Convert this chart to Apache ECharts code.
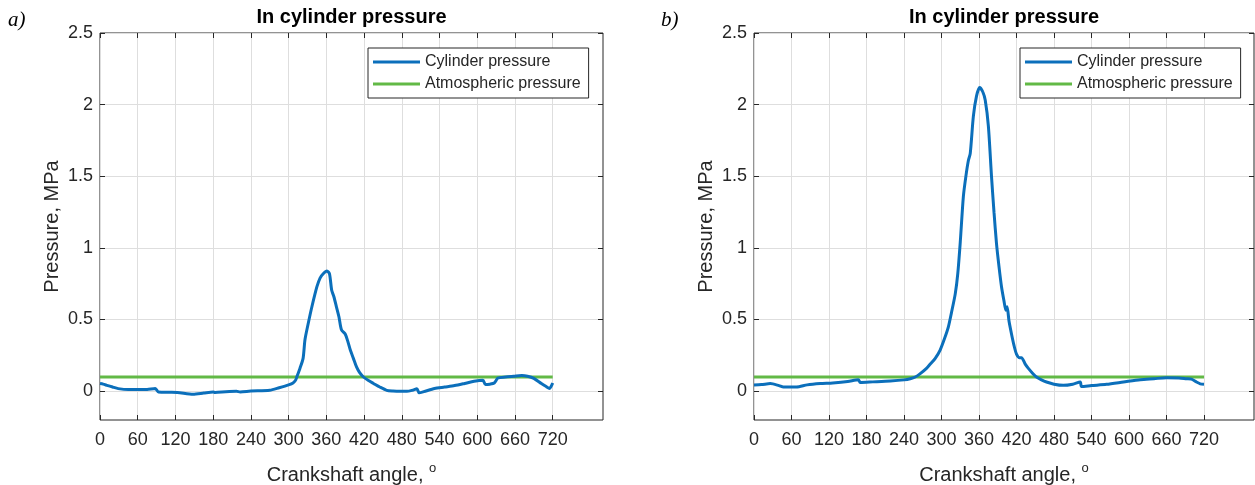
<!DOCTYPE html>
<html>
<head>
<meta charset="utf-8">
<script src="https://cdn.jsdelivr.net/npm/echarts@6/dist/echarts.min.js"></script>
<style>html,body{margin:0;padding:0;background:#fff}#c{width:1255px;height:485px}</style>
</head>
<body>
<div id="c"></div>
<script>
// ---- data ----
const anglesA = [0,5,11,20,29,45,60,75,88,93,110,123,148,165,180,183,200,217,223,240,270,285,300,307,311,313,318,323,326,331,337,345,350,355,361,365,368.5,372,376,380,384,390,394,398,403,408,413,419,427,435,445,456,466,477,488,497,504,507.5,515,532,548,564,580,595,609,613,620,627,633,645,658,671,680,690,702,709,715,720];
const pressureA = [0.054,0.05,0.042,0.03,0.019,0.012,0.012,0.013,0.02,-0.005,-0.007,-0.008,-0.02,-0.012,-0.005,-0.008,-0.003,0,-0.004,0.002,0.007,0.025,0.045,0.058,0.077,0.1,0.16,0.23,0.36,0.47,0.59,0.73,0.79,0.82,0.84,0.82,0.705,0.66,0.59,0.52,0.43,0.40,0.35,0.29,0.23,0.17,0.13,0.1,0.075,0.055,0.03,0.007,0.002,0,0,0.008,0.018,-0.01,-0.002,0.02,0.03,0.04,0.055,0.07,0.077,0.047,0.05,0.058,0.093,0.1,0.105,0.11,0.105,0.09,0.054,0.035,0.02,0.058];

const anglesB = [0,12,26,40,47,68,85,106,126,150,167,170,190,218,240,250,258,265,276,282,290,298,305,311,316,322,326,330,335,339,343,346,351,356,361,366,370,375,380,384,388,392,396,400,403,405,408,412,416,420,425,428,434,439,446,452,460,468,480,495,510,522,524,540,564,591,618,640,660,680,692,700,708,714,720];
const pressureB = [0.045,0.047,0.054,0.04,0.03,0.03,0.045,0.054,0.058,0.068,0.081,0.062,0.066,0.072,0.08,0.088,0.1,0.12,0.16,0.19,0.23,0.29,0.37,0.45,0.55,0.68,0.82,1.04,1.36,1.5,1.61,1.66,1.92,2.06,2.12,2.09,2.03,1.85,1.5,1.25,1.03,0.87,0.73,0.63,0.565,0.59,0.49,0.40,0.32,0.26,0.235,0.235,0.19,0.16,0.125,0.1,0.08,0.065,0.05,0.042,0.05,0.065,0.033,0.04,0.049,0.065,0.081,0.088,0.095,0.093,0.088,0.085,0.065,0.052,0.049];

const atmAngles = [0, 720];
const atmPressure = [0.1, 0.1];

const panelLabels = ['a)', 'b)'];
const titleText = 'In cylinder pressure';
const xName = 'Crankshaft angle, {s|o}';
const yName = 'Pressure, MPa';
const seriesNames = ['Cylinder pressure', 'Atmospheric pressure'];

// ---- layout ----
const W = 1255, H = 485;
const BOXES = [{l:100, r:603}, {l:754, r:1254}];
const BOX_TOP = 33, BOX_BOTTOM = 420, ZERO_Y = 391;
const FONT = "'Liberation Sans', Arial, sans-serif";
const TXT = '#262626';
const GRIDC = '#dedede';
const BLUE = '#0b6fbb';
const GREEN = '#62b946';

const grids = [], xAxes = [], yAxes = [], series = [], titles = [], legends = [];
const zipPts = (a, b) => a.map((v, i) => [v, b[i]]);
const cyl = [zipPts(anglesA, pressureA), zipPts(anglesB, pressureB)];

BOXES.forEach((b, c) => {
  const x720 = b.l + (b.r - b.l) * 720 / 800;
  const gi = grids.length;
  const common = {containLabel: false, outerBoundsMode: 'none'};
  grids.push(Object.assign({left: b.l, right: W - b.r, top: BOX_TOP, bottom: H - BOX_BOTTOM, show: true,
    borderColor: TXT, borderWidth: 1, backgroundColor: 'transparent'}, common));
  grids.push(Object.assign({left: b.l, right: W - x720, top: BOX_TOP, bottom: H - BOX_BOTTOM}, common));
  grids.push(Object.assign({left: b.l, right: W - b.r, top: BOX_TOP, bottom: H - ZERO_Y}, common));

  const xi = xAxes.length, yi = yAxes.length;
  xAxes.push({type: 'value', gridIndex: gi, min: 0, max: 800,
    axisLine: {show: false}, axisTick: {show: false}, axisLabel: {show: false}, splitLine: {show: false},
    name: xName, nameLocation: 'middle', nameGap: 42,
    nameTextStyle: {fontFamily: FONT, fontSize: 20, color: TXT,
      rich: {s: {fontFamily: FONT, fontSize: 13, color: TXT, padding: [0, 0, 14, 0]}}}});
  xAxes.push({type: 'value', gridIndex: gi + 1, min: 0, max: 720, interval: 60, position: 'bottom',
    axisLine: {show: false}, axisTick: {show: true, inside: true, length: 5, lineStyle: {color: TXT}},
    axisLabel: {show: true, margin: 11, fontFamily: FONT, fontSize: 18, color: TXT},
    splitLine: {show: true, lineStyle: {color: GRIDC, width: 1}}});
  xAxes.push({type: 'value', gridIndex: gi + 1, min: 0, max: 720, interval: 60, position: 'top',
    axisLine: {show: false}, axisTick: {show: true, inside: true, length: 5, lineStyle: {color: TXT}},
    axisLabel: {show: false}, splitLine: {show: false}});
  xAxes.push({type: 'value', gridIndex: gi + 2, min: 0, max: 1, show: false});

  yAxes.push({type: 'value', gridIndex: gi, min: -0.2, max: 2.5,
    axisLine: {show: false}, axisTick: {show: false}, axisLabel: {show: false}, splitLine: {show: false},
    name: yName, nameLocation: 'middle', nameGap: 38,
    nameTextStyle: {fontFamily: FONT, fontSize: 20, color: TXT}});
  yAxes.push({type: 'value', gridIndex: gi + 1, min: 0, max: 1, show: false});
  yAxes.push({type: 'value', gridIndex: gi + 2, min: 0, max: 2.5, interval: 0.5, position: 'left',
    axisLine: {show: false}, axisTick: {show: true, inside: true, length: 5, lineStyle: {color: TXT}},
    axisLabel: {show: true, margin: 7, fontFamily: FONT, fontSize: 18, color: TXT},
    splitLine: {show: true, lineStyle: {color: GRIDC, width: 1}}});
  yAxes.push({type: 'value', gridIndex: gi + 2, min: 0, max: 2.5, interval: 0.5, position: 'right',
    axisLine: {show: false}, axisTick: {show: true, inside: true, length: 5, lineStyle: {color: TXT}},
    axisLabel: {show: false}, splitLine: {show: false}});

  series.push({type: 'line', name: seriesNames[0], xAxisIndex: xi, yAxisIndex: yi,
    data: cyl[c], showSymbol: false, symbol: 'none', smooth: 0.25,
    lineStyle: {color: BLUE, width: 3}, itemStyle: {color: BLUE}, z: 5});
  series.push({type: 'line', name: seriesNames[1], xAxisIndex: xi, yAxisIndex: yi,
    data: zipPts(atmAngles, atmPressure), showSymbol: false, symbol: 'none',
    lineStyle: {color: GREEN, width: 3}, itemStyle: {color: GREEN}, z: 4});

  titles.push({text: titleText, left: (b.l + b.r) / 2, top: 7, textAlign: 'center', padding: 0,
    textStyle: {fontFamily: FONT, fontSize: 20, fontWeight: 'bold', color: '#000'}});
  titles.push({text: panelLabels[c], left: c === 0 ? 8 : 661, top: 10, padding: 0,
    textStyle: {fontFamily: "'Liberation Serif', 'Times New Roman', serif", fontStyle: 'italic',
      fontSize: 21, fontWeight: 'normal', color: '#000'}});

  legends.push({data: seriesNames, orient: 'vertical', left: c === 0 ? 368 : 1020, top: 48,
    padding: [6, 8, 6, 5], itemGap: 6, itemWidth: 47, itemHeight: 3, icon: 'rect',
    borderColor: TXT, borderWidth: 1, backgroundColor: '#fff', borderRadius: 0,
    textStyle: {fontFamily: FONT, fontSize: 16, color: TXT, lineHeight: 16}, selectedMode: false});
});

const chart = echarts.init(document.getElementById('c'), null, {renderer: 'canvas'});
chart.setOption({
  backgroundColor: '#fff',
  animation: false,
  title: titles,
  legend: legends,
  grid: grids,
  xAxis: xAxes,
  yAxis: yAxes,
  series: series
});
</script>
</body>
</html>
